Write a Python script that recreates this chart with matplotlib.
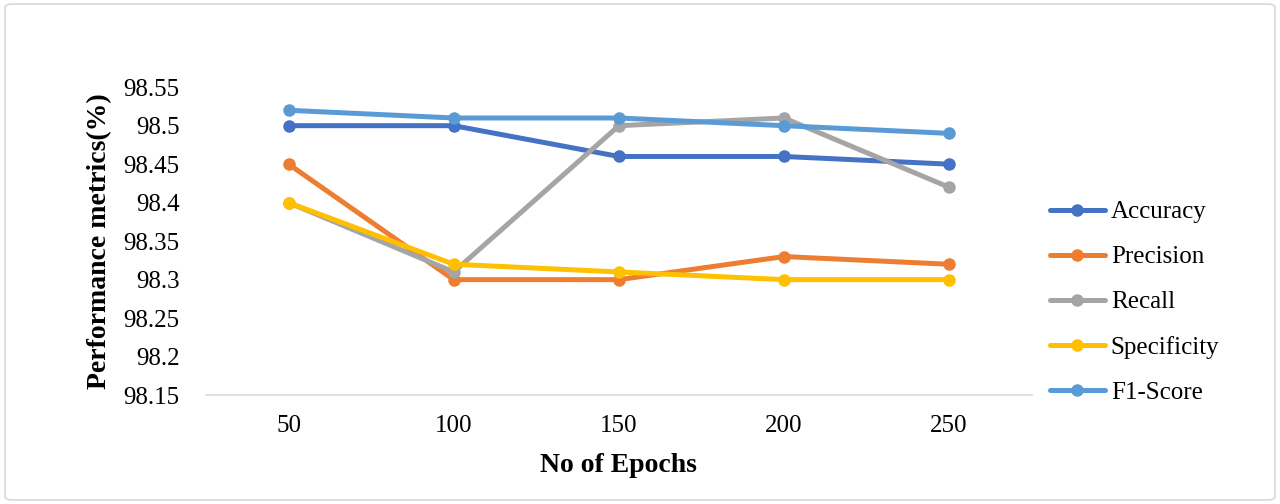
import matplotlib
matplotlib.use("Agg")
import matplotlib.pyplot as plt
from matplotlib.patches import FancyBboxPatch

epochs = ["50", "100", "150", "200", "250"]
accuracy = [98.50, 98.50, 98.46, 98.46, 98.45]
precision = [98.45, 98.30, 98.30, 98.33, 98.32]
recall = [98.40, 98.31, 98.50, 98.51, 98.42]
specificity = [98.40, 98.32, 98.31, 98.30, 98.30]
f1_score = [98.52, 98.51, 98.51, 98.50, 98.49]

series = [
    ("Accuracy", accuracy, "#4472C4"),
    ("Precision", precision, "#ED7D31"),
    ("Recall", recall, "#A5A5A5"),
    ("Specificity", specificity, "#FFC000"),
    ("F1-Score", f1_score, "#5B9BD5"),
]
yticks = [98.15, 98.2, 98.25, 98.3, 98.35, 98.4, 98.45, 98.5, 98.55]
ytick_labels = ["98.15", "98.2", "98.25", "98.3", "98.35", "98.4", "98.45", "98.5", "98.55"]

plt.rcParams["font.family"] = ["Liberation Serif", "DejaVu Serif"]

fig = plt.figure(figsize=(12.8, 5.04), dpi=100)
border = FancyBboxPatch((0.004, 0.008), 0.992, 0.984, boxstyle="round,pad=0,rounding_size=0.006",
                        transform=fig.transFigure, facecolor="white", edgecolor="#d9d9d9",
                        linewidth=1.2, zorder=-10)
fig.patches.append(border)

ax = fig.add_axes([0.161, 0.216, 0.645, 0.611])
ax.set_facecolor("none")
x = list(range(len(epochs)))
for name, vals, col in series:
    ax.plot(x, vals, color=col, linewidth=3.6, marker="o", markersize=8,
            label=name, solid_capstyle="round")

ax.set_xlim(-0.5, len(epochs) - 0.5)
ax.set_ylim(98.15, 98.55)
ax.set_xticks(x)
ax.set_xticklabels(epochs, fontsize=18)
ax.set_yticks(yticks)
ax.set_yticklabels(ytick_labels, fontsize=18)
ax.tick_params(axis="both", length=0)
ax.tick_params(axis="y", pad=19)
ax.tick_params(axis="x", pad=14)
for s in ["top", "right", "left"]:
    ax.spines[s].set_visible(False)
ax.spines["bottom"].set_color("#d9d9d9")
ax.spines["bottom"].set_linewidth(1.2)

ax.set_xlabel("No of Epochs", fontsize=20, fontweight="bold", labelpad=12)
ax.set_ylabel("Performance metrics(%)", fontsize=20, fontweight="bold", labelpad=8)

leg = ax.legend(loc="center left", bbox_to_anchor=(0.82, 0.40), bbox_transform=fig.transFigure,
                frameon=False, fontsize=18, handlelength=2.2, handletextpad=0.25,
                labelspacing=0.9, borderpad=0, borderaxespad=0)

fig.savefig("out.png", dpi=100)
